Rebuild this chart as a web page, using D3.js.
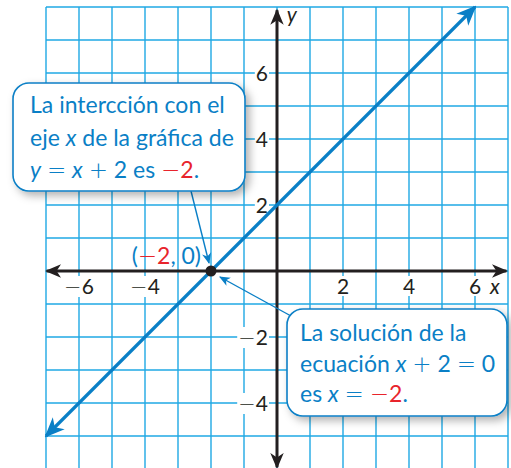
<!DOCTYPE html>
<html>
<head>
<meta charset="utf-8">
<script src="https://cdn.jsdelivr.net/npm/d3@7"></script>
<style>
	html, body { margin: 0; padding: 0; background: #fff; }
	svg { display: block; font-family: Lato, 'Noto Sans', sans-serif; }
	.op { font-family: 'DejaVu Sans', sans-serif; font-weight: 300; }
</style>
</head>
<body>
<div id="chart"></div>
<script>
'use strict';

// grid / axes range
var xDomain = [-7, 7];
var yDomain = [-6, 8];
var xTicks = [-6, -4, 2, 4, 6];
var yTicks = [6, 4, 2, -2, -4];

// y = x + 2, drawn between these two points
var lineX = [-7, 6];
var lineY = [-5, 8];

// x-intercept
var point = [-2, 0];

var BLUE = '#0a7fc6';
var RED = '#e8242c';
var GRID = '#1fa8e4';
var INK = '#231f20';
var MINUS = '\u2212';

var width = 511;
var height = 468;

var x = d3.scaleLinear().domain(xDomain).range([46, 508]);
var y = d3.scaleLinear().domain(yDomain).range([469, 7]);

var svg = d3.select('#chart').append('svg')
	.attr('width', width)
	.attr('height', height);

var defs = svg.append('defs');

function arrowMarker(id, color, size){
	defs.append('marker')
		.attr('id', id)
		.attr('viewBox', '0 0 10 10')
		.attr('refX', 9)
		.attr('refY', 5)
		.attr('markerUnits', 'userSpaceOnUse')
		.attr('markerWidth', size)
		.attr('markerHeight', size)
		.attr('orient', 'auto-start-reverse')
		.append('path')
			.attr('d', 'M0,0.8 L10,5 L0,9.2 L2.8,5 Z')
			.attr('fill', color);
}
arrowMarker('arrow-axis', INK, 16);
arrowMarker('arrow-line', BLUE, 20);
arrowMarker('arrow-small', BLUE, 11);

var shadow = defs.append('filter')
	.attr('id', 'shadow')
	.attr('x', '-20%').attr('y', '-20%')
	.attr('width', '150%').attr('height', '150%');
shadow.append('feDropShadow')
	.attr('dx', 4).attr('dy', 4)
	.attr('stdDeviation', 4)
	.attr('flood-color', '#000')
	.attr('flood-opacity', 0.3);

// grid
var grid = svg.append('g').attr('class', 'grid')
	.attr('stroke', GRID)
	.attr('stroke-width', 1.4);

grid.selectAll('line.v')
	.data(d3.range(xDomain[0], xDomain[1] + 1))
	.enter().append('line')
	.attr('class', 'v')
	.attr('x1', function(d){ return x(d); })
	.attr('x2', function(d){ return x(d); })
	.attr('y1', y(yDomain[1]))
	.attr('y2', y(yDomain[0]));

grid.selectAll('line.h')
	.data(d3.range(yDomain[0], yDomain[1] + 1))
	.enter().append('line')
	.attr('class', 'h')
	.attr('x1', x(xDomain[0]))
	.attr('x2', x(xDomain[1]))
	.attr('y1', function(d){ return y(d); })
	.attr('y2', function(d){ return y(d); });

// tick labels with white boxes behind
function tickLabel(g, tx, ty, d, anchor){
	var t = g.append('text')
		.attr('x', tx)
		.attr('y', ty)
		.attr('text-anchor', anchor)
		.attr('font-size', 21)
		.attr('fill', INK);
	if (d < 0) t.append('tspan').attr('class', 'op').text(MINUS);
	t.append('tspan').text(Math.abs(d));
	var b = t.node().getBBox();
	g.insert('rect', 'text')
		.attr('x', b.x - 1)
		.attr('y', b.y + 3)
		.attr('width', b.width + 2)
		.attr('height', b.height - 5)
		.attr('fill', '#fff');
}

var labels = svg.append('g').attr('class', 'tick-labels');
xTicks.forEach(function(d){
	tickLabel(labels.append('g'), x(d), y(0) + 23, d, 'middle');
});
yTicks.forEach(function(d){
	tickLabel(labels.append('g'), x(0) - 9, y(d) + 8, d, 'end');
});

// axes
svg.append('line')
	.attr('x1', x(0)).attr('x2', x(0))
	.attr('y1', y(-5.95)).attr('y2', y(7.9))
	.attr('stroke', INK)
	.attr('stroke-width', 3)
	.attr('marker-start', 'url(#arrow-axis)')
	.attr('marker-end', 'url(#arrow-axis)');

svg.append('line')
	.attr('x1', x(-6.98)).attr('x2', x(6.95))
	.attr('y1', y(0)).attr('y2', y(0))
	.attr('stroke', INK)
	.attr('stroke-width', 3)
	.attr('marker-start', 'url(#arrow-axis)')
	.attr('marker-end', 'url(#arrow-axis)');

svg.append('text')
	.attr('x', x(6.6)).attr('y', y(0) + 23)
	.attr('text-anchor', 'middle')
	.attr('font-size', 21)
	.attr('font-style', 'italic')
	.attr('fill', INK)
	.text('x');

svg.append('text')
	.attr('x', x(0.45)).attr('y', y(7.55))
	.attr('text-anchor', 'middle')
	.attr('font-size', 21)
	.attr('font-style', 'italic')
	.attr('fill', INK)
	.text('y');

// the line
var line = d3.line()
	.x(function(d){ return x(d[0]); })
	.y(function(d){ return y(d[1]); });

svg.append('path')
	.datum(d3.zip(lineX, lineY))
	.attr('d', line)
	.attr('fill', 'none')
	.attr('stroke', BLUE)
	.attr('stroke-width', 3.2)
	.attr('marker-start', 'url(#arrow-line)')
	.attr('marker-end', 'url(#arrow-line)');

// point
svg.append('circle')
	.attr('cx', x(point[0]))
	.attr('cy', y(point[1]))
	.attr('r', 5.5)
	.attr('fill', INK);

// point label
var pl = svg.append('text')
	.attr('x', x(point[0]) - 10)
	.attr('y', y(point[1]) - 7)
	.attr('text-anchor', 'end')
	.attr('font-size', 23)
	.attr('fill', BLUE);
pl.append('tspan').text('(');
pl.append('tspan').attr('class', 'op').attr('fill', RED).text(MINUS);
pl.append('tspan').attr('fill', RED).text(Math.abs(point[0]));
pl.append('tspan').text(', ' + point[1] + ')');

// callouts
function callout(bx, by, bw, bh, lines, lx, ly, spacing, fontSize){
	var g = svg.append('g');
	g.append('rect')
		.attr('x', bx).attr('y', by)
		.attr('width', bw).attr('height', bh)
		.attr('rx', 16).attr('ry', 16)
		.attr('fill', '#fff')
		.attr('stroke', BLUE)
		.attr('stroke-width', 1.6)
		.attr('filter', 'url(#shadow)');
	lines.forEach(function(parts, i){
		var t = g.append('text')
			.attr('x', lx)
			.attr('y', ly + i * spacing)
			.attr('font-size', fontSize)
			.attr('fill', BLUE)
			.attr('xml:space', 'preserve');
		parts.forEach(function(p){
			var s = t.append('tspan').text(p.t);
			if (p.i) s.attr('font-style', 'italic');
			if (p.red) s.attr('fill', RED);
			if (p.op) s.attr('class', 'op');
		});
	});
	return g;
}

function pointer(x1, y1, x2, y2){
	svg.append('line')
		.attr('x1', x1).attr('y1', y1)
		.attr('x2', x2).attr('y2', y2)
		.attr('stroke', BLUE)
		.attr('stroke-width', 1.4)
		.attr('marker-end', 'url(#arrow-small)');
}

pointer(191, 191, x(point[0]) - 2, y(point[1]) - 8);
pointer(291, 316, x(point[0]) + 9, y(point[1]) + 6);

callout(13, 83, 232, 108, [
	[{t: 'La intercción con el'}],
	[{t: 'eje '}, {t: 'x', i: true}, {t: ' de la gráfica de'}],
	[{t: 'y', i: true}, {t: ' '}, {t: '=', op: true}, {t: ' '}, {t: 'x', i: true}, {t: ' '}, {t: '+', op: true},
		{t: ' 2 es '}, {t: MINUS, red: true, op: true}, {t: '2', red: true}, {t: '.'}]
], 30, 113, 32.5, 23);

callout(287, 309, 220, 107, [
	[{t: 'La solución de la'}],
	[{t: 'ecuación '}, {t: 'x', i: true}, {t: ' '}, {t: '+', op: true}, {t: ' 2 '}, {t: '=', op: true}, {t: ' 0'}],
	[{t: 'es '}, {t: 'x', i: true}, {t: ' '}, {t: '=', op: true}, {t: ' '}, {t: MINUS, red: true, op: true}, {t: '2', red: true}, {t: '.'}]
], 300, 341, 30.5, 23);
</script>
</body>
</html>
